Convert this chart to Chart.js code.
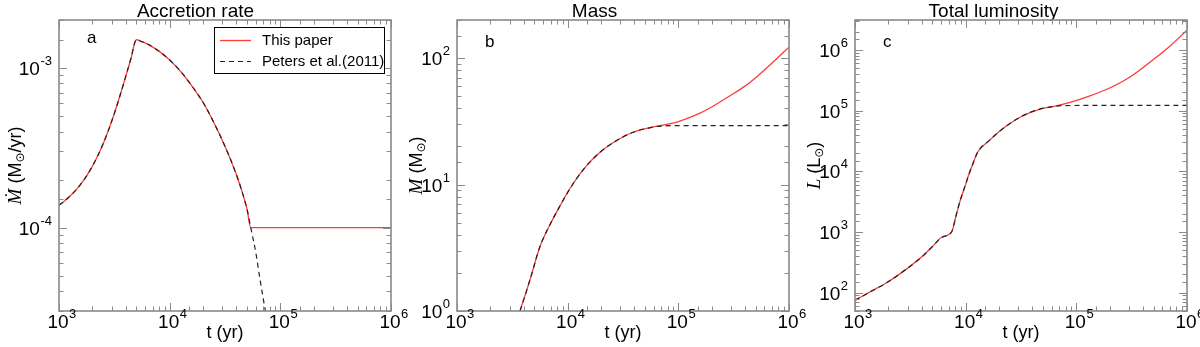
<!DOCTYPE html>
<html>
<head>
<meta charset="utf-8">
<script src="https://cdn.jsdelivr.net/npm/chart.js@4.4.1/dist/chart.umd.min.js"></script>
<style>
html,body{margin:0;padding:0;background:#fff;}
#wrap{position:relative;width:1200px;height:347px;overflow:hidden;background:#fff;}
canvas{position:absolute;top:0;}
</style>
</head>
<body>
<div id="wrap">
<canvas id="chartRate" width="450" height="347" style="left:0px"></canvas>
<canvas id="chartMass" width="446" height="347" style="left:400px"></canvas>
<canvas id="chartLum" width="442" height="347" style="left:800px"></canvas>
</div>
<script>
/*
==========================================
DATOS (t en yr)
==========================================
*/

// a: accretion rate (Msun/yr)
const tRateThis = [1000,1122,1259,1413,1585,1778,1995,2239,2512,2818,3162,3548,3981,4467,5000,
    5620,6310,7940,10000,12600,15800,20000,25100,31600,39800,44700,50100,54000,1000000];
const rateThis = [1.38e-4,1.469e-4,1.576e-4,1.71e-4,1.884e-4,2.111e-4,2.413e-4,2.818e-4,3.37e-4,4.125e-4,5.188e-4,6.675e-4,8.71e-4,1.147e-3,1.504e-3,
    1.462e-3,1.413e-3,1.281e-3,1.122e-3,9.5e-4,7.76e-4,6.1e-4,4.545e-4,3.236e-4,2.176e-4,1.714e-4,1.296e-4,1.0e-4,1.0e-4];

const tRatePeters = [1000,1122,1259,1413,1585,1778,1995,2239,2512,2818,3162,3548,3981,4467,5000,
    5620,6310,7940,10000,12600,15800,20000,25100,31600,39800,44700,50100,54000,60000,65000,70000,75000];
const ratePeters = [1.38e-4,1.469e-4,1.576e-4,1.71e-4,1.884e-4,2.111e-4,2.413e-4,2.818e-4,3.37e-4,4.125e-4,5.188e-4,6.675e-4,8.71e-4,1.147e-3,1.504e-3,
    1.462e-3,1.413e-3,1.281e-3,1.122e-3,9.5e-4,7.76e-4,6.1e-4,4.545e-4,3.236e-4,2.176e-4,1.714e-4,1.296e-4,1.0e-4,7.0e-5,4.9e-5,3.6e-5,2.75e-5];

// b: mass (Msun)
const tMassThis = [3500,3710,4570,5630,6930,8510,10500,13900,19600,27700,39000,55000,70000,
    100000,150000,200000,300000,400000,500000,700000,1000000];
const massThis = [0.86,1.0,1.77,3.25,4.83,6.76,9.3,13.2,18.0,22.3,25.9,28.1,29.3,
    31.5,36,41,51,60,70,91,122];

const tMassPeters = [3500,3710,4570,5630,6930,8510,10500,13900,19600,27700,39000,55000,70000,100000,1000000];
const massPeters = [0.86,1.0,1.77,3.25,4.83,6.76,9.3,13.2,18.0,22.3,25.9,28.1,29.0,29.2,29.2];

// c: total luminosity (Lsun)
const tLumThis = [1000,1367,1930,2930,4140,5100,6070,7480,8180,8910,9890,10600,11600,12900,16100,22800,32200,45500,64400,
    91000,129000,200000,300000,500000,700000,1000000];
const lumThis = [75,103,146,247,409,597,818,1010,1850,3270,5750,8500,13200,21000,31400,54000,80700,104000,118000,
    139000,171000,235000,350000,700000,1150000,2100000];

const tLumPeters = [1000,1367,1930,2930,4140,5100,6070,7480,8180,8910,9890,10600,11600,12900,16100,22800,32200,45500,64400,80000,1000000];
const lumPeters = [75,103,146,247,409,597,818,1010,1850,3270,5750,8500,13200,21000,31400,54000,80700,104000,118000,121000,122000];

const seriesNames = ["This paper","Peters et al.(2011)"];

/*
==========================================
ESTILO
==========================================
*/

const FONT = "'Liberation Sans', Arial, Helvetica, sans-serif";
const RED = "#ff3a3a";
const DASH = "#222222";
const AXIS_GRAY = "#8a8a8a";

Chart.defaults.font.family = FONT;
Chart.defaults.color = "#000";

function isDecade(v){
    const e = Math.log10(v);
    return Math.abs(e - Math.round(e)) < 1e-6;
}

function toPoints(xs, ys){
    return xs.map((x,i) => ({x:x, y:ys[i]}));
}

// "10" + exponente elevado, x = inicio del texto, y = linea base
function drawPow(ctx, x, y, value){
    const e = String(Math.round(Math.log10(value)));
    ctx.font = "19px " + FONT;
    ctx.fillText("10", x, y);
    const w = ctx.measureText("10").width;
    ctx.font = "13px " + FONT;
    ctx.fillText(e, x + w + 0.5, y - 10);
}

function powWidth(ctx, value){
    const e = String(Math.round(Math.log10(value)));
    ctx.font = "19px " + FONT;
    const w = ctx.measureText("10").width;
    ctx.font = "13px " + FONT;
    return { base:w, total:w + 0.5 + ctx.measureText(e).width };
}

/*
==========================================
PLUGINS
==========================================
*/

// marco gris + ticks hacia adentro + etiquetas 10^n
const frameTicks = {
    id:"frameTicks",
    afterDatasetsDraw(chart){
        const ctx = chart.ctx;
        const a = chart.chartArea;
        const xs = chart.scales.x;
        const ys = chart.scales.y;
        ctx.save();
        ctx.strokeStyle = AXIS_GRAY;
        ctx.lineWidth = 1;
        ctx.beginPath();
        xs.ticks.forEach(tk => {
            const px = Math.round(xs.getPixelForValue(tk.value)) + 0.5;
            const len = isDecade(tk.value) ? 8 : 4.5;
            ctx.moveTo(px, a.bottom); ctx.lineTo(px, a.bottom - len);
            ctx.moveTo(px, a.top); ctx.lineTo(px, a.top + len);
        });
        ys.ticks.forEach(tk => {
            const py = Math.round(ys.getPixelForValue(tk.value)) + 0.5;
            const len = isDecade(tk.value) ? 8 : 4.5;
            ctx.moveTo(a.left, py); ctx.lineTo(a.left + len, py);
            ctx.moveTo(a.right, py); ctx.lineTo(a.right - len, py);
        });
        ctx.stroke();
        ctx.lineWidth = 1.6;
        ctx.strokeRect(a.left, a.top, a.right - a.left, a.bottom - a.top);

        ctx.fillStyle = "#000";
        ctx.textAlign = "left";
        ctx.textBaseline = "alphabetic";
        xs.ticks.forEach(tk => {
            if(!isDecade(tk.value)) return;
            const px = xs.getPixelForValue(tk.value);
            const w = powWidth(ctx, tk.value);
            drawPow(ctx, px - w.base / 2 - 1, a.bottom + 17, tk.value);
        });
        ys.ticks.forEach(tk => {
            if(!isDecade(tk.value)) return;
            const py = ys.getPixelForValue(tk.value);
            const w = powWidth(ctx, tk.value);
            drawPow(ctx, a.left - 7 - w.total, py + 7, tk.value);
        });
        ctx.restore();
    }
};

// letra del panel y titulo del eje y (con subindice)
const panelText = {
    id:"panelText",
    afterDraw(chart, args, opts){
        const ctx = chart.ctx;
        const a = chart.chartArea;
        ctx.save();
        ctx.fillStyle = "#000";
        ctx.textBaseline = "alphabetic";
        ctx.textAlign = "left";
        ctx.font = "17px " + FONT;
        ctx.fillText(opts.letter, a.left + 28, a.top + opts.letterY);

        const parts = opts.yTitle;
        let total = 0;
        parts.forEach(p => { ctx.font = p.font; p.w = ctx.measureText(p.text).width; total += p.w; });
        ctx.translate(opts.yTitleX, (a.top + a.bottom) / 2);
        ctx.rotate(-Math.PI / 2);
        ctx.textBaseline = "middle";
        let x = -total / 2;
        parts.forEach(p => {
            ctx.font = p.font;
            ctx.fillText(p.text, x, p.dy || 0);
            x += p.w;
        });
        ctx.restore();
    }
};

// leyenda con recuadro dentro del panel a
const boxLegend = {
    id:"boxLegend",
    afterDraw(chart, args, opts){
        if(!opts.show) return;
        const ctx = chart.ctx;
        const a = chart.chartArea;
        const bx = a.left + 155, by = a.top + 7, bw = 170, bh = 46;
        ctx.save();
        ctx.fillStyle = "#fff";
        ctx.fillRect(bx, by, bw, bh);
        ctx.strokeStyle = "#000";
        ctx.lineWidth = 1;
        ctx.strokeRect(bx + 0.5, by + 0.5, bw, bh);
        ctx.font = "15px " + FONT;
        ctx.textBaseline = "middle";
        ctx.fillStyle = "#000";
        chart.data.datasets.forEach((ds, i) => {
            const y = by + 13 + i * 21;
            ctx.strokeStyle = ds.borderColor;
            ctx.lineWidth = ds.borderWidth;
            ctx.setLineDash(ds.borderDash || []);
            ctx.beginPath();
            ctx.moveTo(bx + 6, y + 0.5);
            ctx.lineTo(bx + 37, y + 0.5);
            ctx.stroke();
            ctx.setLineDash([]);
            ctx.fillText(ds.label, bx + 48, y + 1);
        });
        ctx.restore();
    }
};

/*
==========================================
CONFIG COMUN
==========================================
*/

function buildChart(canvasId, cfg){

    const canvas = document.getElementById(canvasId);
    if(!canvas) return null;

    return new Chart(canvas, {
        type:"line",
        data:{
            datasets:[
                {
                    label:seriesNames[0],
                    data:toPoints(cfg.tThis, cfg.vThis),
                    borderColor:RED,
                    borderWidth:1.3,
                    pointRadius:0,
                    tension:0.4,
                    cubicInterpolationMode:"monotone",
                    order:1
                },
                {
                    label:seriesNames[1],
                    data:toPoints(cfg.tPeters, cfg.vPeters),
                    borderColor:DASH,
                    borderWidth:1.2,
                    borderDash:[5,4],
                    pointRadius:0,
                    tension:0.4,
                    cubicInterpolationMode:"monotone",
                    order:0
                }
            ]
        },
        options:{
            responsive:false,
            animation:false,
            devicePixelRatio:1,
            layout:{ padding:{left:0, right:cfg.padRight, top:0, bottom:0} },
            plugins:{
                legend:{ display:false },
                tooltip:{ enabled:false },
                title:{
                    display:true,
                    text:cfg.title,
                    color:"#000",
                    font:{ size:19, weight:"normal", lineHeight:16 / 19 },
                    padding:{ top:4, bottom:0 }
                },
                panelText:{ letter:cfg.letter, letterY:cfg.letterY, yTitle:cfg.yTitle, yTitleX:cfg.yTitleX },
                boxLegend:{ show:cfg.legend }
            },
            scales:{
                x:{
                    type:"logarithmic",
                    min:1000,
                    max:1000000,
                    grid:{ display:false },
                    border:{ display:false },
                    ticks:{ display:false, autoSkip:false },
                    title:{
                        display:true,
                        text:"t (yr)",
                        color:"#000",
                        font:{ size:18 },
                        padding:{ top:0, bottom:3 }
                    },
                    afterFit:(s) => { s.height = 36; s.paddingLeft = 0; s.paddingRight = 0; }
                },
                y:{
                    type:"logarithmic",
                    min:cfg.yMin,
                    max:cfg.yMax,
                    grid:{ display:false },
                    border:{ display:false },
                    ticks:{ display:false, autoSkip:false },
                    afterFit:(s) => { s.width = cfg.yWidth; s.paddingTop = 0; s.paddingBottom = 0; }
                }
            }
        },
        plugins:[frameTicks, panelText, boxLegend]
    });
}

function yTitleParts(sym, unit, tail){
    return [
        { text:sym, font:"italic 19px 'Liberation Serif', 'Times New Roman', serif" },
        { text:" (" + unit, font:"18px " + FONT },
        { text:"\u2299", font:"12px 'DejaVu Sans', sans-serif", dy:5 },
        { text:tail, font:"18px " + FONT }
    ];
}

/*
==========================================
RENDER
==========================================
*/

function renderRateChart(){
    buildChart("chartRate", {
        title:"Accretion rate",
        tThis:tRateThis, vThis:rateThis,
        tPeters:tRatePeters, vPeters:ratePeters,
        yMin:3e-5, yMax:2e-3,
        yWidth:59, padRight:59,
        letter:"a", letterY:23,
        yTitle:yTitleParts("\u1E40", "M", "/yr)"), yTitleX:16,
        legend:true
    });
}

function renderMassChart(){
    buildChart("chartMass", {
        title:"Mass",
        tThis:tMassThis, vThis:massThis,
        tPeters:tMassPeters, vPeters:massPeters,
        yMin:1, yMax:200,
        yWidth:57, padRight:57,
        letter:"b", letterY:27,
        yTitle:yTitleParts("M", "M", ")"), yTitleX:17,
        legend:false
    });
}

function renderLumChart(){
    buildChart("chartLum", {
        title:"Total luminosity",
        tThis:tLumThis, vThis:lumThis,
        tPeters:tLumPeters, vPeters:lumPeters,
        yMin:50, yMax:3.1e6,
        yWidth:55, padRight:55,
        letter:"c", letterY:27,
        yTitle:yTitleParts("L", "L", ")"), yTitleX:15,
        legend:false
    });
}

renderRateChart();
renderMassChart();
renderLumChart();
</script>
</body>
</html>
